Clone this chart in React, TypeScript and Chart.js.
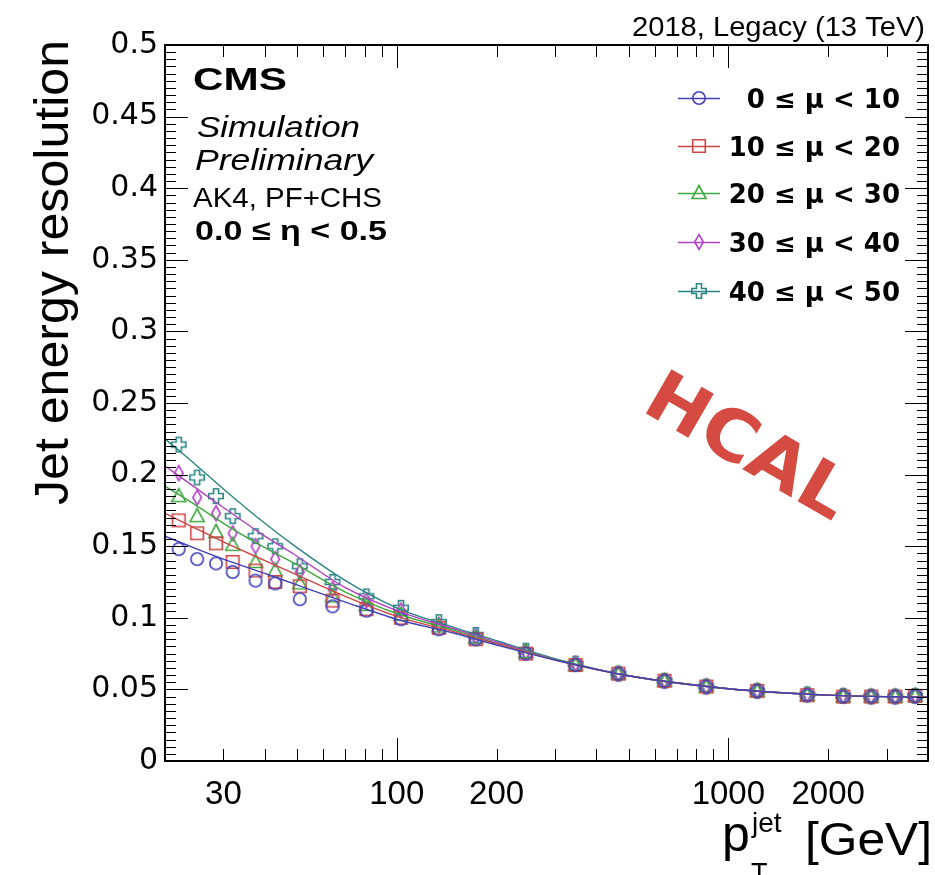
import React, { useEffect, useRef } from 'react';
import { Chart, registerables } from 'chart.js';

Chart.register(...registerables);

// ---------- data ----------
const PT_BINS = [22, 25, 28.5, 32, 37.5, 43, 51, 64, 81, 103, 134, 173, 245, 346, 466, 642, 858, 1222, 1730, 2220, 2697, 3185, 3658];

const RES_MU_0_10 = [0.148, 0.141, 0.138, 0.132, 0.126, 0.124, 0.113, 0.108, 0.105, 0.099, 0.092, 0.085, 0.075, 0.067, 0.061, 0.056, 0.052, 0.049, 0.046, 0.045, 0.045, 0.045, 0.0455];
const RES_MU_10_20 = [0.168, 0.159, 0.152, 0.139, 0.133, 0.125, 0.122, 0.112, 0.106, 0.100, 0.093, 0.085, 0.075, 0.067, 0.061, 0.056, 0.052, 0.049, 0.046, 0.045, 0.045, 0.045, 0.0455];
const RES_MU_20_30 = [0.185, 0.171, 0.160, 0.151, 0.139, 0.133, 0.124, 0.115, 0.109, 0.102, 0.094, 0.086, 0.076, 0.067, 0.061, 0.056, 0.052, 0.049, 0.046, 0.045, 0.045, 0.045, 0.0455];
const RES_MU_30_40 = [0.201, 0.184, 0.173, 0.159, 0.150, 0.141, 0.132, 0.120, 0.112, 0.105, 0.095, 0.087, 0.076, 0.068, 0.061, 0.056, 0.052, 0.049, 0.0465, 0.0455, 0.045, 0.045, 0.0455];
const RES_MU_40_50 = [0.221, 0.198, 0.185, 0.171, 0.157, 0.150, 0.136, 0.125, 0.115, 0.107, 0.097, 0.088, 0.077, 0.068, 0.061, 0.056, 0.052, 0.049, 0.0465, 0.0455, 0.045, 0.045, 0.0455];

const FIT_PT = [20, 25, 30, 40, 50, 70, 100, 150, 200, 300, 500, 1000, 2000, 4000];
const FIT_MU_0_10 = [0.157, 0.148, 0.141, 0.131, 0.123, 0.111, 0.099, 0.089, 0.081, 0.0705, 0.0595, 0.0505, 0.046, 0.0445];
const FIT_MU_10_20 = [0.173, 0.162, 0.153, 0.140, 0.130, 0.115, 0.101, 0.090, 0.082, 0.0705, 0.0595, 0.0505, 0.046, 0.0445];
const FIT_MU_20_30 = [0.192, 0.178, 0.166, 0.149, 0.137, 0.118, 0.103, 0.091, 0.082, 0.071, 0.0595, 0.0505, 0.046, 0.0445];
const FIT_MU_30_40 = [0.206, 0.190, 0.177, 0.157, 0.143, 0.121, 0.105, 0.092, 0.083, 0.071, 0.0595, 0.0505, 0.046, 0.0445];
const FIT_MU_40_50 = [0.225, 0.206, 0.190, 0.166, 0.149, 0.126, 0.107, 0.093, 0.084, 0.0715, 0.0595, 0.0505, 0.046, 0.0445];

const SERIES_LABELS = ['0 \u2264 \u03bc < 10', '10 \u2264 \u03bc < 20', '20 \u2264 \u03bc < 30', '30 \u2264 \u03bc < 40', '40 \u2264 \u03bc < 50'];
const SERIES_COLORS = ['#4242b8', '#cc4646', '#3fa83f', '#b040c4', '#2b8484'];
const SERIES_MARKERS = ['circle', 'square', 'triangle', 'diamond', 'cross'];

const X_TICK_LABELS = [30, 100, 200, 1000, 2000];
const X_MAJOR_TICKS = [100, 1000];
const X_MINOR_TICKS = [30, 40, 50, 60, 70, 80, 90, 200, 300, 400, 500, 600, 700, 800, 900, 2000, 3000];
const Y_TICK_LABELS = [0, 0.05, 0.1, 0.15, 0.2, 0.25, 0.3, 0.35, 0.4, 0.45, 0.5];
const Y_MINOR_STEP = 0.005;

// ---------- helpers ----------
function makeMarker(shape: string, color: string): HTMLCanvasElement {
  const s = 20;
  const c = document.createElement('canvas');
  c.width = s;
  c.height = s;
  const g = c.getContext('2d')!;
  g.strokeStyle = color;
  g.lineWidth = 1.6;
  const m = s / 2;
  g.beginPath();
  if (shape === 'circle') {
    g.arc(m, m, 6.2, 0, Math.PI * 2);
  } else if (shape === 'square') {
    g.rect(m - 6.3, m - 6.3, 12.6, 12.6);
  } else if (shape === 'triangle') {
    g.moveTo(m, m - 7.5);
    g.lineTo(m + 7, m + 5.5);
    g.lineTo(m - 7, m + 5.5);
    g.closePath();
  } else if (shape === 'diamond') {
    g.moveTo(m, m - 7.5);
    g.lineTo(m + 4.3, m);
    g.lineTo(m, m + 7.5);
    g.lineTo(m - 4.3, m);
    g.closePath();
  } else {
    const a = 7.2, b = 2.5;
    const pts = [
      [-b, -a], [b, -a], [b, -b], [a, -b], [a, b], [b, b],
      [b, a], [-b, a], [-b, b], [-a, b], [-a, -b], [-b, -b],
    ];
    pts.forEach((p, i) => (i === 0 ? g.moveTo(m + p[0], m + p[1]) : g.lineTo(m + p[0], m + p[1])));
    g.closePath();
  }
  g.stroke();
  return c;
}

function fitText(ctx: CanvasRenderingContext2D, text: string, x: number, y: number, font: string, width: number, align: 'left' | 'right' = 'left') {
  ctx.save();
  ctx.font = font;
  const w = ctx.measureText(text).width;
  const sx = width / w;
  ctx.translate(x, y);
  ctx.scale(sx, 1);
  ctx.textAlign = 'left';
  ctx.textBaseline = 'alphabetic';
  ctx.fillText(text, align === 'right' ? -w : 0, 0);
  ctx.restore();
}

let markers: HTMLCanvasElement[] = [];

const decorPlugin = {
  id: 'decor',
  afterDraw(chart: any) {
    const { ctx, chartArea: a, scales } = chart;
    const x = scales.x;
    const y = scales.y;
    ctx.save();
    // ticks
    ctx.strokeStyle = '#000';
    ctx.lineWidth = 1;
    const seg = (x1: number, y1: number, x2: number, y2: number) => {
      ctx.beginPath();
      ctx.moveTo(x1, y1);
      ctx.lineTo(x2, y2);
      ctx.stroke();
    };
    X_MINOR_TICKS.forEach((v) => {
      const p = Math.round(x.getPixelForValue(v)) + 0.5;
      seg(p, a.bottom, p, a.bottom - 12);
      seg(p, a.top, p, a.top + 12);
    });
    X_MAJOR_TICKS.forEach((v) => {
      const p = Math.round(x.getPixelForValue(v)) + 0.5;
      seg(p, a.bottom, p, a.bottom - 23);
      seg(p, a.top, p, a.top + 23);
    });
    const nMinor = Math.round(0.5 / Y_MINOR_STEP);
    for (let i = 0; i <= nMinor; i++) {
      const v = i * Y_MINOR_STEP;
      const p = Math.round(y.getPixelForValue(v)) + 0.5;
      const len = i % 10 === 0 ? 23 : 11;
      seg(a.left, p, a.left + len, p);
      seg(a.right, p, a.right - len, p);
    }
    ctx.lineWidth = 2;
    ctx.strokeRect(a.left, a.top, a.right - a.left, a.bottom - a.top);

    // texts
    ctx.fillStyle = '#000';
    fitText(ctx, '2018, Legacy (13 TeV)', 925, 36, '28px "Liberation Sans"', 293, 'right');
    fitText(ctx, 'CMS', 193, 90, 'bold 31px "Liberation Sans"', 94);
    fitText(ctx, 'Simulation', 197, 137, 'italic 30px "Liberation Sans"', 163);
    fitText(ctx, 'Preliminary', 195, 170, 'italic 30px "Liberation Sans"', 178);
    fitText(ctx, 'AK4, PF+CHS', 193, 207, '28px "Liberation Sans"', 189);
    fitText(ctx, '0.0 \u2264 \u03b7 < 0.5', 195, 240, 'bold 28px "Liberation Sans"', 192);

    // y title
    ctx.save();
    ctx.translate(68, 40);
    ctx.rotate(-Math.PI / 2);
    fitText(ctx, 'Jet energy resolution', 0, 0, '48px "Liberation Sans"', 465, 'right');
    ctx.restore();

    // x title
    ctx.font = '50px "Liberation Sans"';
    ctx.textAlign = 'left';
    ctx.textBaseline = 'alphabetic';
    ctx.fillText('p', 722, 851);
    ctx.font = '28px "Liberation Sans"';
    ctx.fillText('jet', 752, 832);
    ctx.font = '27px "Liberation Sans"';
    ctx.fillText('T', 751, 882);
    fitText(ctx, '[GeV]', 805, 855, '46px "Liberation Sans"', 127);

    // legend
    const rows = [98, 146, 193, 242, 291];
    rows.forEach((ry, i) => {
      ctx.strokeStyle = SERIES_COLORS[i];
      ctx.lineWidth = 1.5;
      seg(678, ry + 0.5, 720, ry + 0.5);
      const mk = markers[i];
      if (mk) ctx.drawImage(mk, 699 - mk.width / 2, ry - mk.height / 2);
      ctx.fillStyle = '#000';
      ctx.font = 'bold 26px "DejaVu Sans"';
      ctx.textAlign = 'right';
      ctx.textBaseline = 'alphabetic';
      ctx.fillText(SERIES_LABELS[i], 900, ry + 9.5);
    });

    // HCAL stamp
    ctx.save();
    ctx.translate(640, 410);
    ctx.rotate((30 * Math.PI) / 180);
    ctx.fillStyle = '#d64b41';
    fitText(ctx, 'HCAL', 0, 0, 'bold 70px "DejaVu Sans"', 223);
    ctx.restore();

    ctx.restore();
  },
};

export default function App() {
  const ref = useRef<HTMLCanvasElement | null>(null);
  useEffect(() => {
    if (!ref.current) return;
    markers = SERIES_MARKERS.map((s, i) => makeMarker(s, SERIES_COLORS[i]));
    const resSeries = [RES_MU_0_10, RES_MU_10_20, RES_MU_20_30, RES_MU_30_40, RES_MU_40_50];
    const fitSeries = [FIT_MU_0_10, FIT_MU_10_20, FIT_MU_20_30, FIT_MU_30_40, FIT_MU_40_50];
    const datasets: any[] = [];
    fitSeries.forEach((f, i) => {
      datasets.push({
        label: SERIES_LABELS[i] + ' fit',
        data: FIT_PT.map((p, j) => ({ x: p, y: f[j] })),
        borderColor: SERIES_COLORS[i],
        borderWidth: 1.4,
        pointRadius: 0,
        fill: false,
        cubicInterpolationMode: 'monotone',
      });
    });
    resSeries.forEach((r, i) => {
      datasets.push({
        label: SERIES_LABELS[i],
        data: PT_BINS.map((p, j) => ({ x: p, y: r[j] })),
        showLine: false,
        pointStyle: markers[i],
        pointRadius: 6,
        borderColor: SERIES_COLORS[i],
        backgroundColor: 'rgba(0,0,0,0)',
      });
    });
    const chart = new Chart(ref.current, {
      type: 'line',
      data: { datasets },
      options: {
        responsive: false,
        animation: false,
        events: [],
        layout: { padding: { top: 45, right: 5, left: 0, bottom: 0 } },
        plugins: { legend: { display: false }, tooltip: { enabled: false }, title: { display: false } },
        scales: {
          x: {
            type: 'logarithmic',
            min: 20,
            max: 4000,
            grid: { display: false, drawTicks: false },
            border: { display: false },
            afterBuildTicks: (s: any) => {
              s.ticks = X_TICK_LABELS.map((v) => ({ value: v }));
            },
            afterFit: (s: any) => {
              s.height = 114;
            },
            ticks: {
              autoSkip: false,
              maxRotation: 0,
              minRotation: 0,
              padding: 14,
              color: '#000',
              font: { family: 'Liberation Sans', size: 33 },
              callback: (v: any) => String(v),
            },
          },
          y: {
            type: 'linear',
            min: 0,
            max: 0.5,
            grid: { display: false, drawTicks: false },
            border: { display: false },
            afterBuildTicks: (s: any) => {
              s.ticks = Y_TICK_LABELS.map((v) => ({ value: v }));
            },
            afterFit: (s: any) => {
              s.width = 165;
            },
            ticks: {
              padding: 7,
              color: '#000',
              font: { family: 'DejaVu Sans', size: 30 },
              callback: (v: any) => String(Number(Number(v).toFixed(3))),
            },
          },
        },
      },
      plugins: [decorPlugin],
    });
    return () => chart.destroy();
  }, []);
  return (
    <div style={{ position: 'absolute', left: 0, top: 0, width: 935, height: 875, background: '#fff' }}>
      <canvas ref={ref} width={935} height={875} style={{ display: 'block' }} />
    </div>
  );
}
